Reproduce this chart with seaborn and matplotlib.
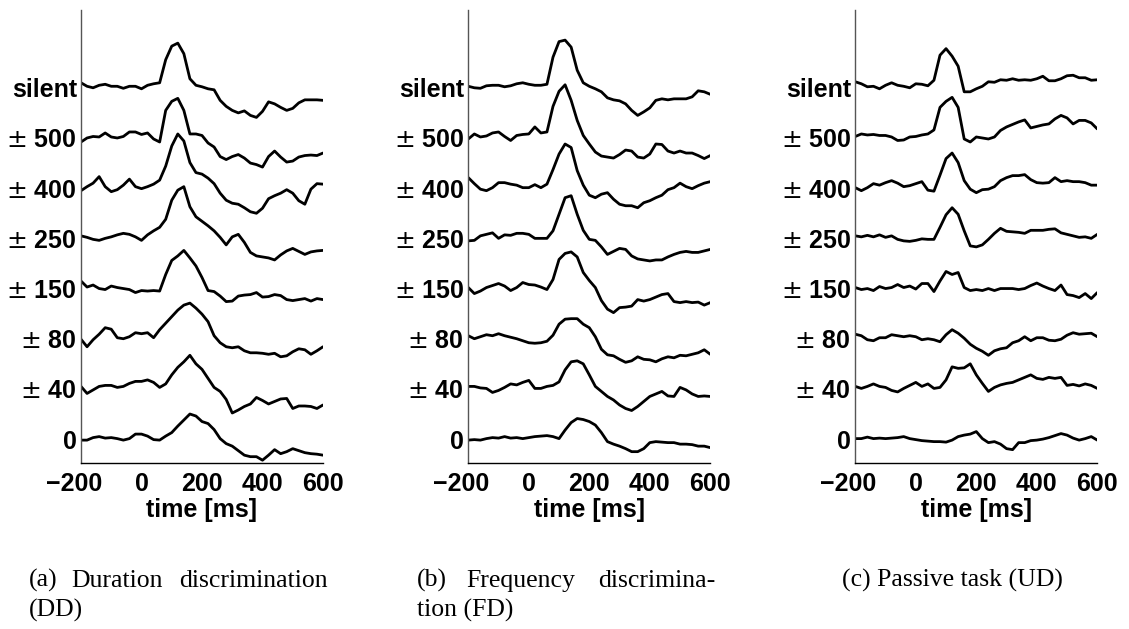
import numpy as np
import pandas as pd
import matplotlib
matplotlib.use("Agg")
import matplotlib.pyplot as plt
import matplotlib.transforms as mtransforms
import seaborn as sns

# ---------------- data ----------------
time_ms = list(range(-200, 601, 20))
conditions = ["0", r"$\pm$ 40", r"$\pm$ 80", r"$\pm$ 150", r"$\pm$ 250",
              r"$\pm$ 400", r"$\pm$ 500", "silent"]
x_ticks = [-200, 0, 200, 400, 600]
x_label = "time [ms]"

# (a) Duration discrimination (DD), amplitudes in units of trace spacing
dd_0 = [-0.02, -0.02, 0.03, 0.05, 0.02, 0.03, 0.01, -0.02, 0.01, 0.10, 0.10, 0.06, -0.01, -0.02,
        0.06, 0.13, 0.26, 0.38, 0.50, 0.46, 0.35, 0.31, 0.19, 0.01, -0.09, -0.14, -0.23, -0.32,
        -0.35, -0.35, -0.42, -0.32, -0.21, -0.29, -0.25, -0.19, -0.23, -0.27, -0.29, -0.30, -0.32]
dd_40 = [0.05, -0.09, -0.02, 0.05, 0.07, 0.07, 0.03, 0.05, 0.11, 0.15, 0.15, 0.18, 0.13, 0.03,
         0.10, 0.28, 0.43, 0.54, 0.67, 0.50, 0.39, 0.21, 0.03, -0.05, -0.21, -0.48, -0.42, -0.35,
         -0.30, -0.17, -0.23, -0.30, -0.25, -0.20, -0.19, -0.39, -0.34, -0.34, -0.35, -0.39, -0.32]
dd_80 = [-0.01, -0.16, -0.02, 0.09, 0.22, 0.19, 0.02, 0.00, 0.04, 0.12, 0.10, 0.12, 0.02, 0.18,
         0.31, 0.44, 0.57, 0.67, 0.71, 0.61, 0.49, 0.34, 0.06, -0.08, -0.16, -0.18, -0.16, -0.24,
         -0.28, -0.28, -0.29, -0.31, -0.29, -0.36, -0.34, -0.26, -0.20, -0.22, -0.31, -0.24, -0.16]
dd_150 = [0.15, 0.03, 0.07, 0.00, -0.02, 0.05, 0.02, 0.00, -0.02, -0.08, -0.04, -0.05, -0.04, -0.05,
          0.28, 0.56, 0.65, 0.76, 0.61, 0.45, 0.22, -0.04, -0.06, -0.15, -0.26, -0.25, -0.15, -0.13,
          -0.12, -0.08, -0.17, -0.16, -0.12, -0.14, -0.22, -0.24, -0.22, -0.20, -0.25, -0.20, -0.22]
dd_250 = [0.05, 0.02, -0.02, -0.04, 0.00, 0.03, 0.07, 0.10, 0.08, 0.03, -0.04, 0.07, 0.15, 0.22,
          0.38, 0.76, 0.96, 1.03, 0.63, 0.43, 0.34, 0.25, 0.15, 0.02, -0.13, 0.03, 0.08, -0.08,
          -0.28, -0.35, -0.37, -0.39, -0.43, -0.33, -0.25, -0.20, -0.26, -0.32, -0.27, -0.25, -0.24]
dd_400 = [-0.05, 0.03, 0.10, 0.23, 0.03, -0.07, -0.03, 0.06, 0.18, 0.03, -0.01, 0.03, 0.08, 0.16,
          0.44, 0.84, 1.08, 0.94, 0.51, 0.31, 0.28, 0.20, 0.09, -0.10, -0.24, -0.30, -0.32, -0.39,
          -0.47, -0.50, -0.40, -0.21, -0.15, -0.10, -0.03, -0.10, -0.25, -0.32, -0.02, 0.09, 0.08]
dd_500 = [-0.08, 0.00, 0.03, 0.02, 0.10, 0.02, 0.00, 0.03, 0.12, 0.12, 0.07, 0.10, -0.02, -0.08,
          0.55, 0.73, 0.79, 0.55, 0.08, 0.08, 0.05, -0.10, -0.18, -0.37, -0.43, -0.37, -0.33, -0.40,
          -0.50, -0.53, -0.58, -0.37, -0.26, -0.38, -0.48, -0.46, -0.38, -0.35, -0.34, -0.35, -0.30]
dd_silent = [0.10, 0.03, 0.00, 0.05, 0.07, 0.03, 0.03, -0.01, 0.03, 0.03, -0.02, 0.05, 0.08, 0.10,
             0.56, 0.83, 0.89, 0.68, 0.18, 0.05, 0.02, -0.02, -0.04, -0.25, -0.37, -0.45, -0.50, -0.46,
             -0.55, -0.59, -0.47, -0.28, -0.32, -0.39, -0.45, -0.41, -0.30, -0.24, -0.24, -0.24, -0.25]

# (b) Frequency discrimination (FD)
fd_0 = [-0.02, -0.01, -0.02, 0.01, 0.03, 0.02, 0.05, 0.02, 0.03, 0.01, 0.03, 0.05, 0.06, 0.07,
        0.05, 0.01, 0.18, 0.33, 0.41, 0.39, 0.35, 0.28, 0.13, -0.05, -0.10, -0.14, -0.19, -0.25,
        -0.25, -0.19, -0.07, -0.05, -0.06, -0.07, -0.07, -0.10, -0.10, -0.11, -0.14, -0.14, -0.17]
fd_40 = [0.05, 0.05, 0.02, 0.01, -0.07, -0.03, 0.03, 0.10, 0.08, 0.13, 0.17, 0.01, 0.01, 0.05,
         0.07, 0.14, 0.38, 0.54, 0.56, 0.50, 0.28, 0.05, -0.05, -0.15, -0.22, -0.32, -0.39, -0.43,
         -0.35, -0.25, -0.15, -0.10, -0.05, -0.14, -0.15, 0.03, -0.02, -0.10, -0.15, -0.14, -0.15]
fd_80 = [0.06, 0.00, 0.04, 0.08, 0.06, 0.10, 0.06, 0.03, 0.00, -0.04, -0.08, -0.09, -0.08, -0.05,
         0.07, 0.29, 0.39, 0.40, 0.40, 0.29, 0.22, 0.04, -0.21, -0.32, -0.34, -0.41, -0.47, -0.44,
         -0.36, -0.41, -0.42, -0.46, -0.40, -0.36, -0.38, -0.33, -0.34, -0.31, -0.28, -0.22, -0.31]
fd_150 = [0.02, -0.10, -0.05, 0.02, 0.06, 0.10, 0.05, -0.04, 0.02, 0.12, 0.08, 0.07, 0.03, -0.02,
          0.18, 0.58, 0.70, 0.73, 0.63, 0.32, 0.16, 0.02, -0.24, -0.41, -0.48, -0.38, -0.37, -0.35,
          -0.22, -0.25, -0.22, -0.17, -0.12, -0.10, -0.26, -0.28, -0.26, -0.28, -0.27, -0.33, -0.28]
fd_250 = [-0.05, -0.04, 0.05, 0.08, 0.11, 0.00, 0.07, 0.06, 0.10, 0.10, 0.08, 0.00, 0.00, 0.00,
          0.15, 0.48, 0.81, 0.85, 0.48, 0.16, -0.02, -0.04, -0.17, -0.32, -0.26, -0.20, -0.22, -0.35,
          -0.41, -0.43, -0.45, -0.43, -0.43, -0.37, -0.32, -0.28, -0.26, -0.28, -0.28, -0.25, -0.22]
fd_400 = [0.21, 0.09, -0.02, -0.05, 0.01, 0.11, 0.11, 0.08, 0.06, 0.01, 0.01, 0.07, 0.01, 0.08,
          0.37, 0.68, 0.88, 0.81, 0.35, 0.06, -0.14, -0.19, -0.12, -0.09, -0.22, -0.32, -0.35, -0.35,
          -0.39, -0.29, -0.25, -0.19, -0.14, -0.03, 0.01, 0.10, 0.03, -0.01, 0.05, 0.10, 0.13]
fd_500 = [-0.02, 0.08, 0.02, 0.04, 0.10, 0.12, 0.03, -0.05, 0.05, 0.07, 0.08, 0.22, 0.10, 0.12,
          0.63, 0.93, 1.06, 0.75, 0.35, 0.05, -0.12, -0.28, -0.36, -0.38, -0.40, -0.33, -0.24, -0.26,
          -0.38, -0.40, -0.32, -0.12, -0.13, -0.26, -0.30, -0.26, -0.30, -0.30, -0.35, -0.41, -0.35]
fd_silent = [0.03, 0.00, -0.01, 0.04, 0.05, 0.05, 0.02, 0.04, 0.08, 0.10, 0.07, 0.05, 0.05, 0.07,
             0.61, 0.92, 0.95, 0.81, 0.35, 0.10, 0.03, -0.02, -0.08, -0.20, -0.24, -0.26, -0.32, -0.45,
             -0.55, -0.48, -0.40, -0.25, -0.22, -0.24, -0.22, -0.22, -0.22, -0.18, -0.06, -0.08, -0.13]

# (c) Passive task (UD)
ud_0 = [0.01, 0.01, 0.04, 0.01, 0.02, 0.01, 0.02, 0.03, 0.05, 0.01, -0.01, -0.03, -0.04, -0.05,
        -0.05, -0.06, -0.02, 0.05, 0.08, 0.10, 0.15, 0.01, -0.07, -0.05, -0.10, -0.19, -0.21, -0.07,
        -0.07, -0.03, -0.02, 0.00, 0.03, 0.07, 0.11, 0.08, 0.02, -0.02, 0.01, 0.05, -0.02]
ud_40 = [0.05, 0.01, 0.05, 0.10, 0.05, 0.03, -0.03, -0.06, 0.01, 0.07, 0.13, 0.05, 0.10, 0.01,
         0.03, 0.18, 0.44, 0.41, 0.42, 0.50, 0.28, 0.11, -0.05, 0.03, 0.08, 0.11, 0.13, 0.18,
         0.23, 0.28, 0.21, 0.19, 0.23, 0.21, 0.23, 0.07, 0.09, 0.06, 0.10, 0.07, 0.01]
ud_80 = [0.09, 0.06, -0.02, -0.04, 0.02, 0.02, 0.08, 0.06, 0.04, 0.06, 0.04, -0.02, 0.00, -0.02,
         -0.06, 0.08, 0.18, 0.11, 0.01, -0.11, -0.19, -0.25, -0.33, -0.24, -0.20, -0.18, -0.08, -0.04,
         0.04, -0.04, 0.02, 0.02, -0.03, -0.04, -0.01, 0.07, 0.12, 0.09, 0.10, 0.11, 0.04]
ud_150 = [0.02, -0.02, 0.00, -0.04, 0.04, 0.00, 0.02, 0.08, 0.02, 0.05, -0.01, 0.10, 0.10, -0.06,
          0.15, 0.34, 0.28, 0.32, 0.02, -0.04, -0.02, -0.04, 0.00, -0.04, 0.00, 0.00, 0.00, -0.02,
          0.00, 0.06, 0.11, 0.05, 0.00, -0.04, 0.07, -0.12, -0.14, -0.18, -0.10, -0.20, -0.08]
ud_250 = [0.05, 0.03, 0.06, 0.03, 0.07, 0.02, 0.05, -0.02, -0.05, -0.06, -0.04, -0.01, -0.02, -0.02,
          0.22, 0.47, 0.61, 0.48, 0.15, -0.15, -0.17, -0.13, -0.02, 0.10, 0.20, 0.14, 0.13, 0.12,
          0.10, 0.16, 0.16, 0.16, 0.18, 0.19, 0.11, 0.08, 0.05, 0.02, 0.03, 0.00, 0.08]
ud_400 = [0.01, -0.05, 0.01, 0.09, 0.06, 0.11, 0.15, 0.10, 0.03, 0.05, 0.09, 0.13, -0.04, -0.06,
          0.26, 0.59, 0.70, 0.51, 0.15, -0.02, -0.09, -0.03, -0.02, 0.03, 0.15, 0.21, 0.25, 0.25,
          0.27, 0.17, 0.11, 0.10, 0.11, 0.21, 0.13, 0.15, 0.13, 0.13, 0.11, 0.06, 0.06]
ud_500 = [0.03, 0.08, 0.06, 0.07, 0.05, 0.05, 0.02, -0.05, -0.04, 0.02, 0.03, 0.06, 0.08, 0.16,
          0.61, 0.73, 0.81, 0.61, -0.02, -0.08, 0.02, 0.00, -0.02, 0.02, 0.15, 0.22, 0.27, 0.32,
          0.36, 0.20, 0.23, 0.26, 0.28, 0.38, 0.45, 0.40, 0.28, 0.35, 0.35, 0.30, 0.18]
ud_silent = [0.12, 0.08, 0.02, 0.03, -0.02, 0.05, 0.10, 0.05, 0.03, 0.00, 0.08, 0.07, 0.04, 0.15,
             0.65, 0.78, 0.63, 0.43, -0.08, -0.08, -0.02, 0.03, 0.12, 0.11, 0.16, 0.15, 0.18, 0.15,
             0.16, 0.15, 0.18, 0.23, 0.14, 0.14, 0.18, 0.24, 0.25, 0.20, 0.20, 0.15, 0.16]

panels = [
    ([dd_0, dd_40, dd_80, dd_150, dd_250, dd_400, dd_500, dd_silent],
     ["(a)", "Duration", "discrimination"], ["(DD)"]),
    ([fd_0, fd_40, fd_80, fd_150, fd_250, fd_400, fd_500, fd_silent],
     ["(b)", "Frequency", "discrimina-"], ["tion (FD)"]),
    ([ud_0, ud_40, ud_80, ud_150, ud_250, ud_400, ud_500, ud_silent],
     ["(c) Passive task (UD)"], []),
]

# ---------------- style ----------------
sns.set_style("white")
plt.rcParams["font.family"] = ["Liberation Sans", "DejaVu Sans"]
plt.rcParams["mathtext.fontset"] = "dejavusans"
plt.rcParams["text.color"] = "black"
plt.rcParams["axes.labelcolor"] = "black"
plt.rcParams["xtick.color"] = "black"
plt.rcParams["ytick.color"] = "black"

W, H = 1129, 629
fig = plt.figure(figsize=(W / 100, H / 100), dpi=100)

axes_left_px = [81, 468.3, 855.3]
axes_w_px = 242
top_px, bottom_px = 10, 462.7

# caption word positions (px from left) for line 1 and line 2
cap1_x = [[29.3, 71.7, 179.3], [416.7, 466.7, 598.3], [841.7]]
cap2_x = [[29.3], [416.7], []]

for p, (traces, cap1, cap2) in enumerate(panels):
    ax = fig.add_axes([axes_left_px[p] / W, 1 - bottom_px / H,
                       axes_w_px / W, (bottom_px - top_px) / H])
    rows = []
    for k, tr in enumerate(traces):
        for t, v in zip(time_ms, tr):
            rows.append({"time": t, "amp": v + k, "cond": k})
    df = pd.DataFrame(rows)
    sns.lineplot(data=df, x="time", y="amp", units="cond", estimator=None,
                 color="black", linewidth=2.0, ax=ax, legend=False)
    for line in ax.get_lines():
        line.set_solid_joinstyle("round")
        line.set_solid_capstyle("round")
    ax.set_xlim(-200, 600)
    ax.set_ylim(-0.47, 8.55)
    ax.set_xticks(x_ticks)
    ax.set_xticklabels([f"{t}".replace("-", "\u2212") for t in x_ticks])
    ax.set_yticks(range(len(conditions)))
    ax.set_yticklabels(conditions)
    ax.tick_params(axis="x", direction="in", length=4, width=0.8, pad=7,
                   labelsize=18, color="black", labelcolor="black")
    ax.tick_params(axis="y", length=0, pad=3, labelsize=18, labelcolor="black")
    for lab in ax.get_xticklabels() + ax.get_yticklabels():
        lab.set_fontweight("bold")
        lab.set_color("black")
    # the first x label sits slightly left of its tick in the reference
    first = ax.get_xticklabels()[0]
    first.set_transform(first.get_transform() +
                        mtransforms.ScaledTranslation(-7 / 100, 0, fig.dpi_scale_trans))
    ax.set_xlabel(x_label, fontsize=18, fontweight="bold", labelpad=1, color="black")
    ax.set_ylabel("")
    for s in ["top", "right"]:
        ax.spines[s].set_visible(False)
    ax.spines["bottom"].set_color("black")
    ax.spines["bottom"].set_linewidth(1.0)
    ax.spines["left"].set_color("#555555")
    ax.spines["left"].set_linewidth(1.0)
    ax.set_facecolor("white")

    for word, xp in zip(cap1, cap1_x[p]):
        fig.text(xp / W, 1 - 587 / H, word, family=["Liberation Serif", "DejaVu Serif"],
                 fontsize=18.5, ha="left", va="baseline", color="black")
    for word, xp in zip(cap2, cap2_x[p]):
        fig.text(xp / W, 1 - 617 / H, word, family=["Liberation Serif", "DejaVu Serif"],
                 fontsize=18.5, ha="left", va="baseline", color="black")

fig.savefig("out.png", dpi=100, facecolor="white")
